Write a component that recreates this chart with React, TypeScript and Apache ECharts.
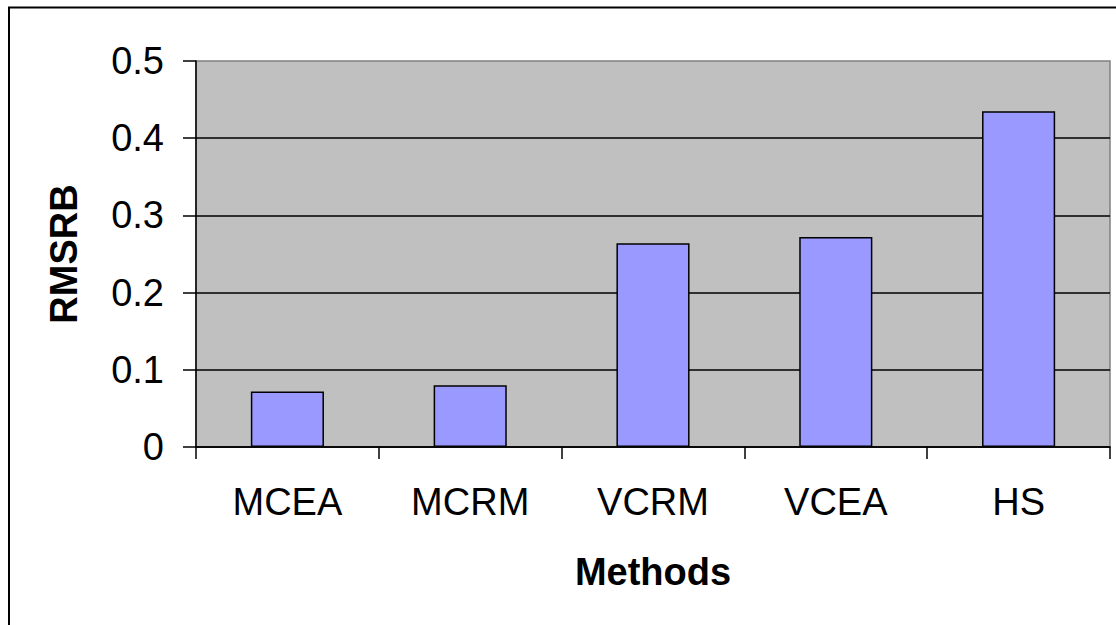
import React, { useEffect, useRef } from "react";
import * as echarts from "echarts";

const methods = ["MCEA", "MCRM", "VCRM", "VCEA", "HS"];
const rmsrb = [0.072, 0.08, 0.264, 0.272, 0.435];
const yMin = 0;
const yMax = 0.5;
const yStep = 0.1;

const font = "'Liberation Sans', Arial, sans-serif";

const App = () => {
  const chartRef = useRef<HTMLDivElement>(null);

  useEffect(() => {
    if (!chartRef.current) return;
    const myChart = echarts.init(chartRef.current, null, { renderer: "svg" });

    const option = {
      animation: false,
      backgroundColor: "#ffffff",
      textStyle: { fontFamily: font },
      graphic: [
        {
          type: "polyline",
          shape: { points: [[9, 625], [9, 7.5], [1116, 7.5]] },
          style: { stroke: "#000", lineWidth: 2, fill: "none" },
        },
      ],
      grid: {
        left: 196,
        top: 61,
        right: 6,
        bottom: 178,
        show: true,
        backgroundColor: "#C0C0C0",
        borderColor: "#808080",
        borderWidth: 1.5,
      },
      xAxis: {
        type: "category",
        data: methods,
        boundaryGap: true,
        name: "Methods",
        nameLocation: "middle",
        nameGap: 106,
        nameTextStyle: { fontSize: 38, fontWeight: "bold", color: "#000", fontFamily: font },
        axisLine: { lineStyle: { color: "#000", width: 1.5 } },
        axisTick: { show: true, length: 12, lineStyle: { color: "#000", width: 1.5 } },
        axisLabel: { fontSize: 38, color: "#000", margin: 36, fontFamily: font },
        splitLine: { show: false },
      },
      yAxis: {
        type: "value",
        min: yMin,
        max: yMax,
        interval: yStep,
        name: "RMSRB",
        nameLocation: "middle",
        nameGap: 113,
        nameTextStyle: { fontSize: 38, fontWeight: "bold", color: "#000", fontFamily: font },
        axisLine: { show: true, lineStyle: { color: "#000", width: 1.5 } },
        axisTick: { show: true, length: 13, lineStyle: { color: "#000", width: 1.5 } },
        axisLabel: { fontSize: 38, color: "#000", margin: 32, fontFamily: font },
        splitLine: { show: true, showMaxLine: false, lineStyle: { color: "#000", width: 1.5 } },
      },
      series: [
        {
          type: "bar",
          data: rmsrb,
          barWidth: "40%",
          itemStyle: { color: "#9999FF", borderColor: "#000", borderWidth: 1.5 },
        },
      ],
    };

    myChart.setOption(option);

    return () => {
      myChart.dispose();
    };
  }, []);

  return (
    <div
      ref={chartRef}
      style={{ position: "fixed", left: 0, top: 0, width: 1116, height: 625 }}
    />
  );
};

export default App;
